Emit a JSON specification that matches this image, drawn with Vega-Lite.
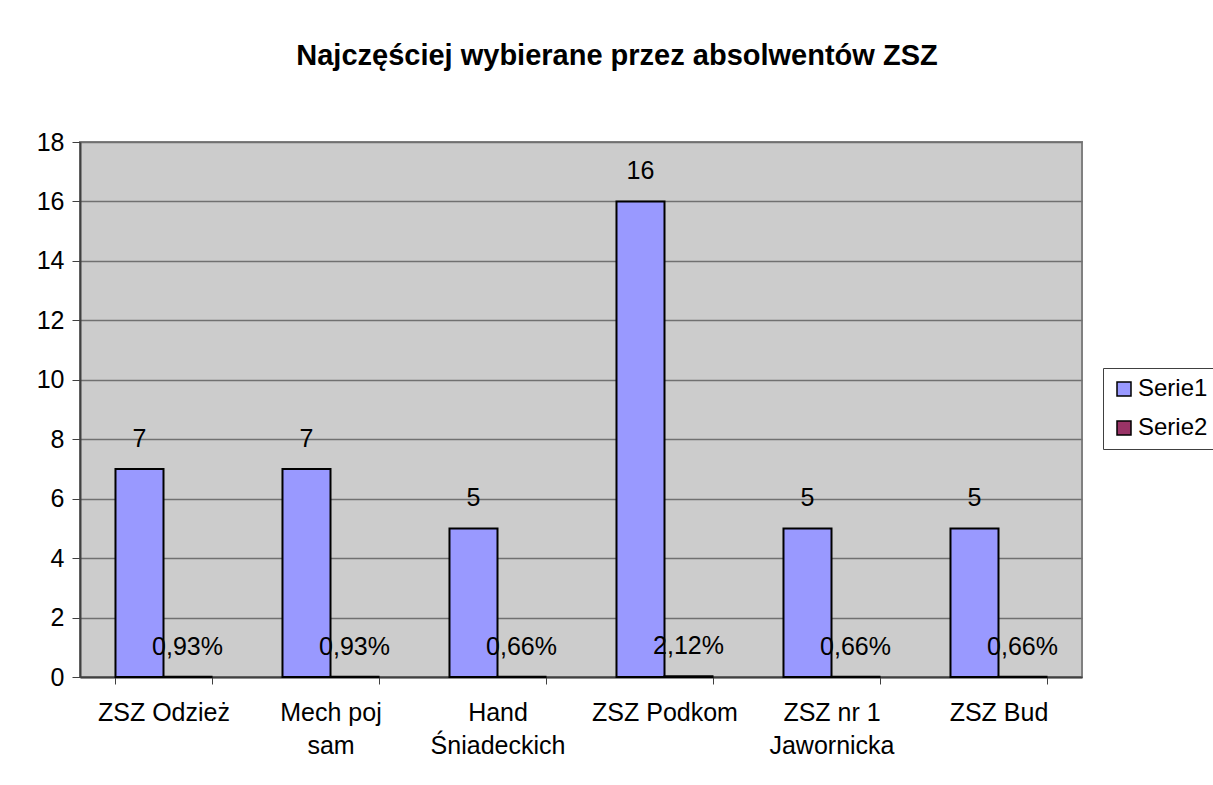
{
  "$schema": "https://vega.github.io/schema/vega-lite/v6.json",
  "autosize": {"type": "none"},
  "width": 1002,
  "height": 535,
  "padding": {"left": 80, "top": 142, "right": 131, "bottom": 108},
  "background": "white",
  "config": {
    "font": "Liberation Sans",
    "locale": {"number": {"decimal": ",", "thousands": " ", "grouping": [3], "currency": ["", " zł"]}},
    "view": {"fill": "#CCCCCC", "stroke": "#808080", "strokeWidth": 2}
  },
  "title": {
    "text": "Najczęściej wybierane przez absolwentów ZSZ",
    "font": "Liberation Sans",
    "fontSize": 29,
    "fontWeight": "bold",
    "color": "black",
    "anchor": "middle",
    "frame": "group",
    "dx": 36,
    "baseline": "alphabetic",
    "offset": 36
  },
  "data": {
    "values": [
      {"category": "ZSZ Odzież", "series": "Serie1", "value": 7},
      {"category": "Mech poj sam", "series": "Serie1", "value": 7},
      {"category": "Hand Śniadeckich", "series": "Serie1", "value": 5},
      {"category": "ZSZ Podkom", "series": "Serie1", "value": 16},
      {"category": "ZSZ nr 1 Jawornicka", "series": "Serie1", "value": 5},
      {"category": "ZSZ Bud", "series": "Serie1", "value": 5},
      {"category": "ZSZ Odzież", "series": "Serie2", "value": 0.0093},
      {"category": "Mech poj sam", "series": "Serie2", "value": 0.0093},
      {"category": "Hand Śniadeckich", "series": "Serie2", "value": 0.0066},
      {"category": "ZSZ Podkom", "series": "Serie2", "value": 0.0212},
      {"category": "ZSZ nr 1 Jawornicka", "series": "Serie2", "value": 0.0066},
      {"category": "ZSZ Bud", "series": "Serie2", "value": 0.0066}
    ]
  },
  "encoding": {
    "x": {
      "field": "category",
      "type": "nominal",
      "sort": null,
      "scale": {"paddingInner": 0.425, "paddingOuter": 0.2125},
      "axis": {
        "title": null,
        "labelAngle": 0,
        "labelFont": "Liberation Sans",
        "labelFontSize": 25,
        "labelColor": "black",
        "labelLineHeight": 33,
        "labelPadding": 16,
        "labelBaseline": "top",
        "labelExpr": "datum.value == 'Mech poj sam' ? ['Mech poj', 'sam'] : datum.value == 'Hand Śniadeckich' ? ['Hand', 'Śniadeckich'] : datum.value == 'ZSZ nr 1 Jawornicka' ? ['ZSZ nr 1', 'Jawornicka'] : datum.value",
        "tickBand": "extent",
        "tickSize": 7,
        "tickColor": "#404040",
        "domainColor": "#404040",
        "domainWidth": 2,
        "grid": false
      }
    },
    "xOffset": {"field": "series", "type": "nominal", "scale": {"paddingInner": 0, "paddingOuter": 0}},
    "y": {
      "field": "value",
      "type": "quantitative",
      "scale": {"domain": [0, 18], "nice": false},
      "axis": {
        "title": null,
        "values": [0, 2, 4, 6, 8, 10, 12, 14, 16, 18],
        "labelFont": "Liberation Sans",
        "labelFontSize": 25,
        "labelColor": "black",
        "labelPadding": 8,
        "tickSize": 8,
        "tickColor": "#404040",
        "domainColor": "#404040",
        "domainWidth": 2,
        "gridColor": "#707070",
        "gridWidth": 1.5,
        "gridOpacity": 1
      }
    }
  },
  "layer": [
    {
      "mark": {"type": "bar", "stroke": "black", "strokeWidth": 2},
      "encoding": {
        "color": {
          "field": "series",
          "type": "nominal",
          "scale": {"domain": ["Serie1", "Serie2"], "range": ["#9999FF", "#993366"]},
          "legend": {
            "title": null,
            "orient": "none",
            "legendX": 1023,
            "legendY": 226,
            "direction": "vertical",
            "symbolType": "square",
            "symbolSize": 196,
            "symbolStrokeColor": "black",
            "symbolStrokeWidth": 1.5,
            "labelFont": "Liberation Sans",
            "labelFontSize": 24,
            "labelColor": "black",
            "labelOffset": 2,
            "rowPadding": 15,
            "padding": 9,
            "strokeColor": "#404040",
            "fillColor": "white"
          }
        }
      }
    },
    {
      "transform": [{"filter": "datum.series == 'Serie1'"}],
      "mark": {"type": "text", "baseline": "middle", "dy": -30, "fontSize": 25, "font": "Liberation Sans", "color": "black"},
      "encoding": {"text": {"field": "value", "type": "quantitative", "format": "d"}}
    },
    {
      "transform": [{"filter": "datum.series == 'Serie2'"}],
      "mark": {"type": "text", "baseline": "middle", "dy": -30, "fontSize": 25, "font": "Liberation Sans", "color": "black"},
      "encoding": {"text": {"field": "value", "type": "quantitative", "format": ".2%"}}
    }
  ]
}
